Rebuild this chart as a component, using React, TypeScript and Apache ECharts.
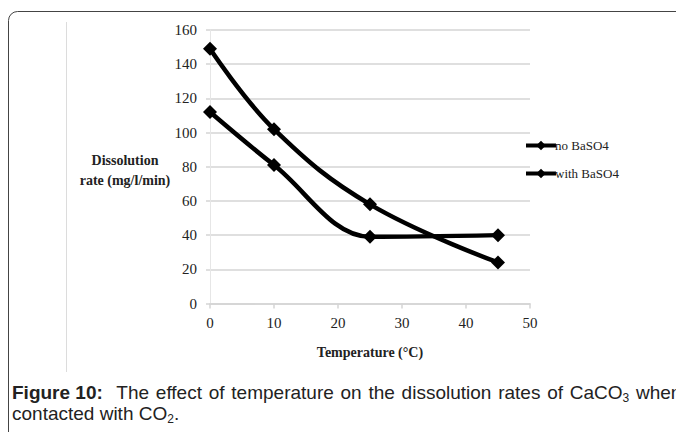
import React, { useEffect, useRef } from "react";
import * as echarts from "echarts";

const temperature = [0, 10, 25, 45];
const noBaSO4 = [149, 102, 58, 24];
const withBaSO4 = [112, 81, 39, 40];
const seriesNames = ["no BaSO4", "with BaSO4"];
const captionBold = "Figure 10:";
const captionLine1: (string | [string, string])[] = [
  "The", "effect", "of", "temperature", "on", "the", "dissolution", "rates", "of", ["CaCO", "3"], "when",
];
const captionLine2: [string, string, string] = ["contacted with CO", "2", "."];

const serif = "'Liberation Serif', 'Times New Roman', serif";
const sans = "'Liberation Sans', Arial, sans-serif";
const CAP = 19;
const SUB = 12;

export default function App() {
  const ref = useRef<HTMLDivElement>(null);
  useEffect(() => {
    if (!ref.current) return;
    const chart = echarts.init(ref.current, undefined, { renderer: "svg" });
    const mk = (vals: number[]) => temperature.map((t, i) => [t, vals[i]]);

    const cv = document.createElement("canvas").getContext("2d")!;
    const measure = (t: string, size: number, bold = false) => {
      cv.font = `${bold ? "bold " : ""}${size}px ${sans}`;
      return cv.measureText(t).width;
    };
    const y1 = 392;
    const y2 = 413;
    const textEl = (x: number, y: number, text: string, size: number, bold = false) => ({
      type: "text",
      x,
      y,
      silent: true,
      style: {
        text,
        font: `${bold ? "bold " : ""}${size}px ${sans}`,
        fill: "#222",
        align: "left",
        verticalAlign: "middle",
      },
    });
    const caption: any[] = [];
    const B = measure(captionBold, CAP, true);
    caption.push(textEl(12, y1, captionBold, CAP, true));
    const widths = captionLine1.map((w) =>
      typeof w === "string" ? measure(w, CAP) : measure(w[0], CAP) + measure(w[1], SUB)
    );
    const W = widths.slice(0, widths.length - 1).reduce((a, b) => a + b, 0);
    const space = measure(" ", CAP);
    const g = Math.max(space, (636 - 12 - B - W) / 12);
    let x = 12 + B + 2 * g;
    captionLine1.forEach((w, i) => {
      if (typeof w === "string") {
        caption.push(textEl(x, y1, w, CAP));
      } else {
        caption.push(textEl(x, y1, w[0], CAP));
        caption.push(textEl(x + measure(w[0], CAP), y1 + 6, w[1], SUB));
      }
      x += widths[i] + g;
    });
    let x2 = 12;
    caption.push(textEl(x2, y2, captionLine2[0], CAP));
    x2 += measure(captionLine2[0], CAP);
    caption.push(textEl(x2, y2 + 6, captionLine2[1], SUB));
    x2 += measure(captionLine2[1], SUB);
    caption.push(textEl(x2, y2, captionLine2[2], CAP));

    chart.setOption({
      animation: false,
      backgroundColor: "#fff",
      grid: { left: 210, right: 146, top: 30, bottom: 128.5, containLabel: false },
      xAxis: {
        type: "value",
        min: 0,
        max: 50,
        interval: 10,
        axisLine: { show: true, lineStyle: { color: "#d4d4d4", width: 1.5 } },
        axisTick: { show: true, length: 5, lineStyle: { color: "#d4d4d4", width: 1.5 } },
        splitLine: { show: false },
        axisLabel: { color: "#222", fontFamily: serif, fontSize: 15, margin: 12 },
      },
      yAxis: {
        type: "value",
        min: 0,
        max: 160,
        interval: 20,
        axisLine: { show: true, lineStyle: { color: "#e6e6e6", width: 1 } },
        axisTick: { show: true, length: 4, lineStyle: { color: "#d4d4d4", width: 1.5 } },
        splitLine: { show: true, lineStyle: { color: "#d4d4d4", width: 1.5 } },
        axisLabel: { color: "#222", fontFamily: serif, fontSize: 15, margin: 13 },
      },
      legend: {
        left: 524,
        top: 139,
        padding: 0,
        orient: "vertical",
        itemGap: 15,
        itemWidth: 30,
        itemHeight: 12,
        lineStyle: { width: 4 },
        textStyle: { color: "#222", fontFamily: serif, fontSize: 13, padding: [0, 0, 0, -6] },
        data: seriesNames,
      },
      series: [
        {
          name: seriesNames[0],
          type: "line",
          data: mk(noBaSO4),
          smooth: 0.4,
          symbol: "diamond",
          symbolSize: 14,
          lineStyle: { color: "#000", width: 4.5 },
          itemStyle: { color: "#000" },
        },
        {
          name: seriesNames[1],
          type: "line",
          data: mk(withBaSO4),
          smooth: 0.35,
          symbol: "diamond",
          symbolSize: 14,
          lineStyle: { color: "#000", width: 4.5 },
          itemStyle: { color: "#000" },
        },
      ],
      graphic: [
        {
          type: "rect",
          shape: { x: 8.5, y: 11.5, width: 720, height: 460, r: 9 },
          style: { fill: "none", stroke: "#444", lineWidth: 1 },
          silent: true,
        },
        {
          type: "line",
          shape: { x1: 66.5, y1: 22, x2: 66.5, y2: 372 },
          style: { stroke: "#dcdcdc", lineWidth: 1 },
          silent: true,
        },
        {
          type: "text",
          x: 125,
          y: 170,
          style: {
            text: "Dissolution\nrate (mg/l/min)",
            font: `bold 14px ${serif}`,
            fill: "#222",
            align: "center",
            verticalAlign: "middle",
            lineHeight: 20,
          },
        },
        {
          type: "text",
          x: 370,
          y: 352,
          style: {
            text: "Temperature (°C)",
            font: `bold 14px ${serif}`,
            fill: "#222",
            align: "center",
            verticalAlign: "middle",
          },
        },
        ...caption,
      ],
    });
    return () => chart.dispose();
  }, []);
  return (
    <div
      ref={ref}
      style={{ position: "absolute", left: 0, top: 0, width: 676, height: 432 }}
    />
  );
}
